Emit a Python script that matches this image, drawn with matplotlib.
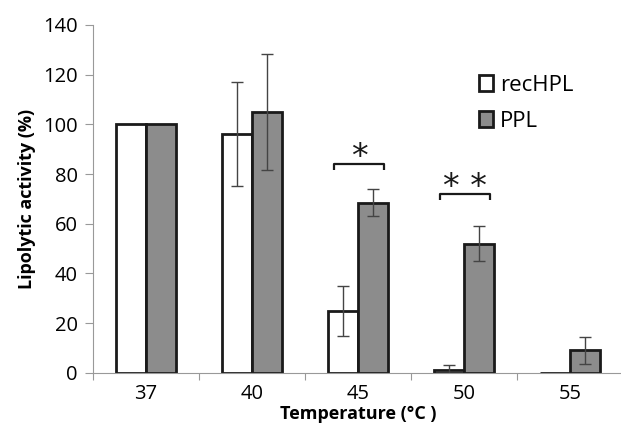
import numpy as np
import matplotlib
matplotlib.use("Agg")
import matplotlib.pyplot as plt

# data
temps = ["37", "40", "45", "50", "55"]
rechpl = [100, 96, 25, 1, 0]
rechpl_err = [0, 21, 10, 2, 0]
ppl = [100, 105, 68.5, 52, 9]
ppl_err = [0, 23.5, 5.3, 7, 5.3]

# significance brackets: (category index, height, label)
sig_pos = [2, 3]
sig_height = [84, 72]
sig_label = ["*", "**"]

plt.rcParams["font.family"] = ["Open Sans", "DejaVu Sans"]

fig = plt.figure(figsize=(6.21, 4.30), dpi=100)
ax = fig.add_axes([0.150, 0.133, 0.853, 0.809])

x = np.arange(len(temps))
w = 0.285
errkw = dict(ecolor="#444444", elinewidth=1.0, capsize=4, capthick=1.0)
ax.bar(x - w / 2, rechpl, w, color="white", edgecolor="#1a1a1a",
       linewidth=2.0, label="recHPL", zorder=2)
ax.bar(x + w / 2, ppl, w, color="#8c8c8c", edgecolor="#1a1a1a",
       linewidth=2.0, label="PPL", zorder=2)
for xi, v, e in zip(x - w / 2, rechpl, rechpl_err):
    if e > 0:
        ax.errorbar(xi, v, yerr=e, fmt="none", zorder=3, **errkw)
for xi, v, e in zip(x + w / 2, ppl, ppl_err):
    if e > 0:
        ax.errorbar(xi, v, yerr=e, fmt="none", zorder=3, **errkw)

# brackets with stars
for i, h, lab in zip(sig_pos, sig_height, sig_label):
    x0, x1 = i - 0.23, i + 0.25
    ax.plot([x0, x0, x1, x1], [h - 2.5, h, h, h - 2.5], color="#1a1a1a",
            lw=1.6, solid_capstyle="butt", zorder=4)
    ax.text((x0 + x1) / 2, h + 4.0, " ".join(lab),
            ha="center", va="center_baseline", fontsize=24, color="#1a1a1a",
            family=["DejaVu Sans"])

ax.set_xlim(-0.5, len(temps) - 0.5)
ax.set_ylim(0, 140)
ax.set_yticks(np.arange(0, 141, 20))
ax.set_xticks(x)
ax.set_xticklabels(temps)
ax.set_xticks(np.arange(-0.5, len(temps), 1.0), minor=True)
ax.tick_params(axis="x", which="major", length=0, labelsize=14.5, pad=8)
ax.tick_params(axis="x", which="minor", length=5, color="#999999", width=0.8)
ax.tick_params(axis="y", length=6, color="#999999", width=0.8, labelsize=14.5, pad=5)

for s in ["top", "right"]:
    ax.spines[s].set_visible(False)
for s in ["left", "bottom"]:
    ax.spines[s].set_color("#999999")
    ax.spines[s].set_linewidth(0.8)

ax.set_ylabel("Lipolytic activity (%)", fontsize=13, fontweight="bold", labelpad=5)
ax.set_xlabel("Temperature (\u00b0C )", fontsize=13, fontweight="bold", labelpad=1)

ax.legend(loc="upper left", bbox_to_anchor=(0.69, 0.915), frameon=False,
          fontsize=16, handlelength=0.65, handleheight=0.75,
          handletextpad=0.3, labelspacing=0.7)

fig.savefig("out.png", dpi=100)
